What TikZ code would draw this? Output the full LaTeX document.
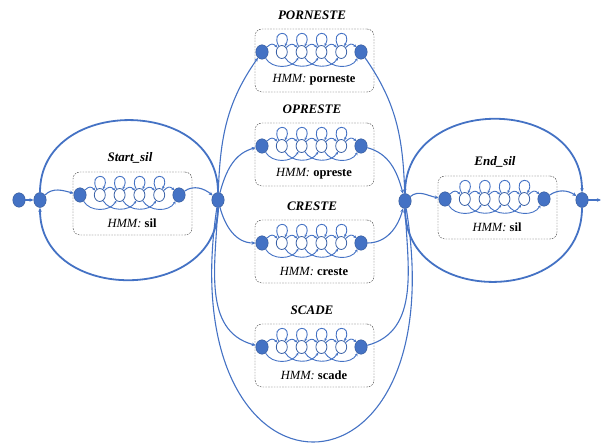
\documentclass[tikz,border=0pt]{standalone}
\usepackage{fontspec}
\setmainfont{Liberation Serif}
\usepackage{tikz}
\usetikzlibrary{positioning,shapes.geometric,arrows.meta}
\definecolor{hmmblue}{RGB}{68,114,196}

\begin{document}
\begin{tikzpicture}[x=1pt,y=1pt,
    >={Stealth[length=4pt,width=3.5pt]},
    dot/.style={ellipse,fill=hmmblue,draw=hmmblue!75!black,minimum width=12.5pt,minimum height=14.5pt,inner sep=0pt},
    hmmstate/.style={ellipse,draw=hmmblue!85!black,fill=white,line width=0.8pt,minimum width=11pt,minimum height=13pt,inner sep=0pt},
    hmmbox/.style={draw=black!80,dash pattern=on 1.6pt off 1.2pt,rounded corners=7pt,minimum width=119pt,minimum height=63pt,inner sep=0pt},
    wordtitle/.style={font=\fontsize{13}{15}\selectfont\bfseries\itshape},
    hmmlabel/.style={font=\fontsize{12.5}{14}\selectfont},
    link/.style={draw=hmmblue,line width=1.1pt,->},
    hmmarc/.style={draw=hmmblue,line width=0.9pt,-{Stealth[length=2.8pt,width=2.8pt]}},
    loopline/.style={draw=hmmblue,line width=1.8pt}]
  \useasboundingbox (0,0) rectangle (601,444);

  % one left-to-right model per word
  \foreach \b/\x/\y/\ttl/\wrd in {st/80/249/Start\_sil/sil, po/262/392/PORNESTE/porneste,
      op/262/298/OPRESTE/opreste, cr/262/201/CRESTE/creste, sc/262/97/SCADE/scade,
      en/445/245/End\_sil/sil}{
    \node[hmmbox] (\b-box) at (\x+52.5,\y-8.5) {};
    \node[wordtitle] (\b-title) at (\x+50,\y+37) {\ttl};
    \node[hmmlabel] (\b-label) at (\x+52,\y-28) {\textit{HMM:} \textbf{\wrd}};
    \node[dot] (\b0) at (\x,\y) {};
    \foreach \k in {1,...,4}
      \node[hmmstate] (\b\k) at (\x+19.8*\k,\y) {};
    \node[dot] (\b5) at (\x+99,\y) {};
    \foreach \k in {0,...,4}{
      \pgfmathtruncatemacro{\n}{\k+1}
      \draw[hmmarc] (\b\k) to[out=45,in=135,looseness=1.4] (\b\n);
    }
    \foreach \k in {1,...,4}
      \draw[hmmarc] (\b\k) to[out=118,in=62,min distance=19pt] (\b\k);
    \foreach \k in {0,...,3}{
      \pgfmathtruncatemacro{\n}{\k+2}
      \draw[hmmarc] (\b\k) to[out=-60,in=-120,looseness=1] (\b\n);
    }
  }

  % junctions
  \node[dot] (entry) at (19,244) {};
  \node[dot,minimum height=15pt] (n0) at (40,244) {};
  \node[dot,minimum height=15pt] (j1) at (218,244) {};
  \node[dot,minimum height=15pt] (j2) at (405,243) {};
  \node[dot,minimum height=15pt] (nx) at (582,244) {};
  \coordinate (exit) at (601,244);

  \draw[link,line width=1.8pt] (entry) -- (n0);
  \draw[link] (n0) to[out=45,in=165] (st0);
  \draw[link] (st5) to[out=35,in=140] (j1);
  % fan out to the words
  \draw[link] (j1) to[out=88,in=235] (po0);
  \draw[link] (j1) to[out=75,in=195] (op0);
  \draw[link] (j1) to[out=-75,in=180] (cr0);
  \draw[link] (j1) to[out=-92,in=165] (sc0);
  \draw[link] (po5) to[out=-55,in=92] (j2);
  \draw[link] (op5) to[out=-15,in=105] (j2);
  \draw[link] (cr5) to[out=0,in=-105] (j2);
  \draw[link] (sc5) to[out=15,in=-88] (j2);
  \draw[link] (j2) to[out=40,in=170] (en0);
  \draw[link] (en5) to[out=35,in=145] (nx);
  \draw[link,line width=1.8pt] (nx) -- (exit);

  % loops back
  \draw[loopline] (n0) .. controls +(0,104) and +(0,104) .. (j1);
  \draw[loopline,->] (j1) .. controls +(0,-104) and +(0,-104) .. (n0);
  \draw[loopline,->] (j2) .. controls +(0,106) and +(0,106) .. (nx);
  \draw[loopline] (nx) .. controls +(0,-106) and +(0,-106) .. (j2);
  \draw[link,-] (j2) .. controls (457,-76) and (170,-76) .. (j1);
\end{tikzpicture}
\end{document}
